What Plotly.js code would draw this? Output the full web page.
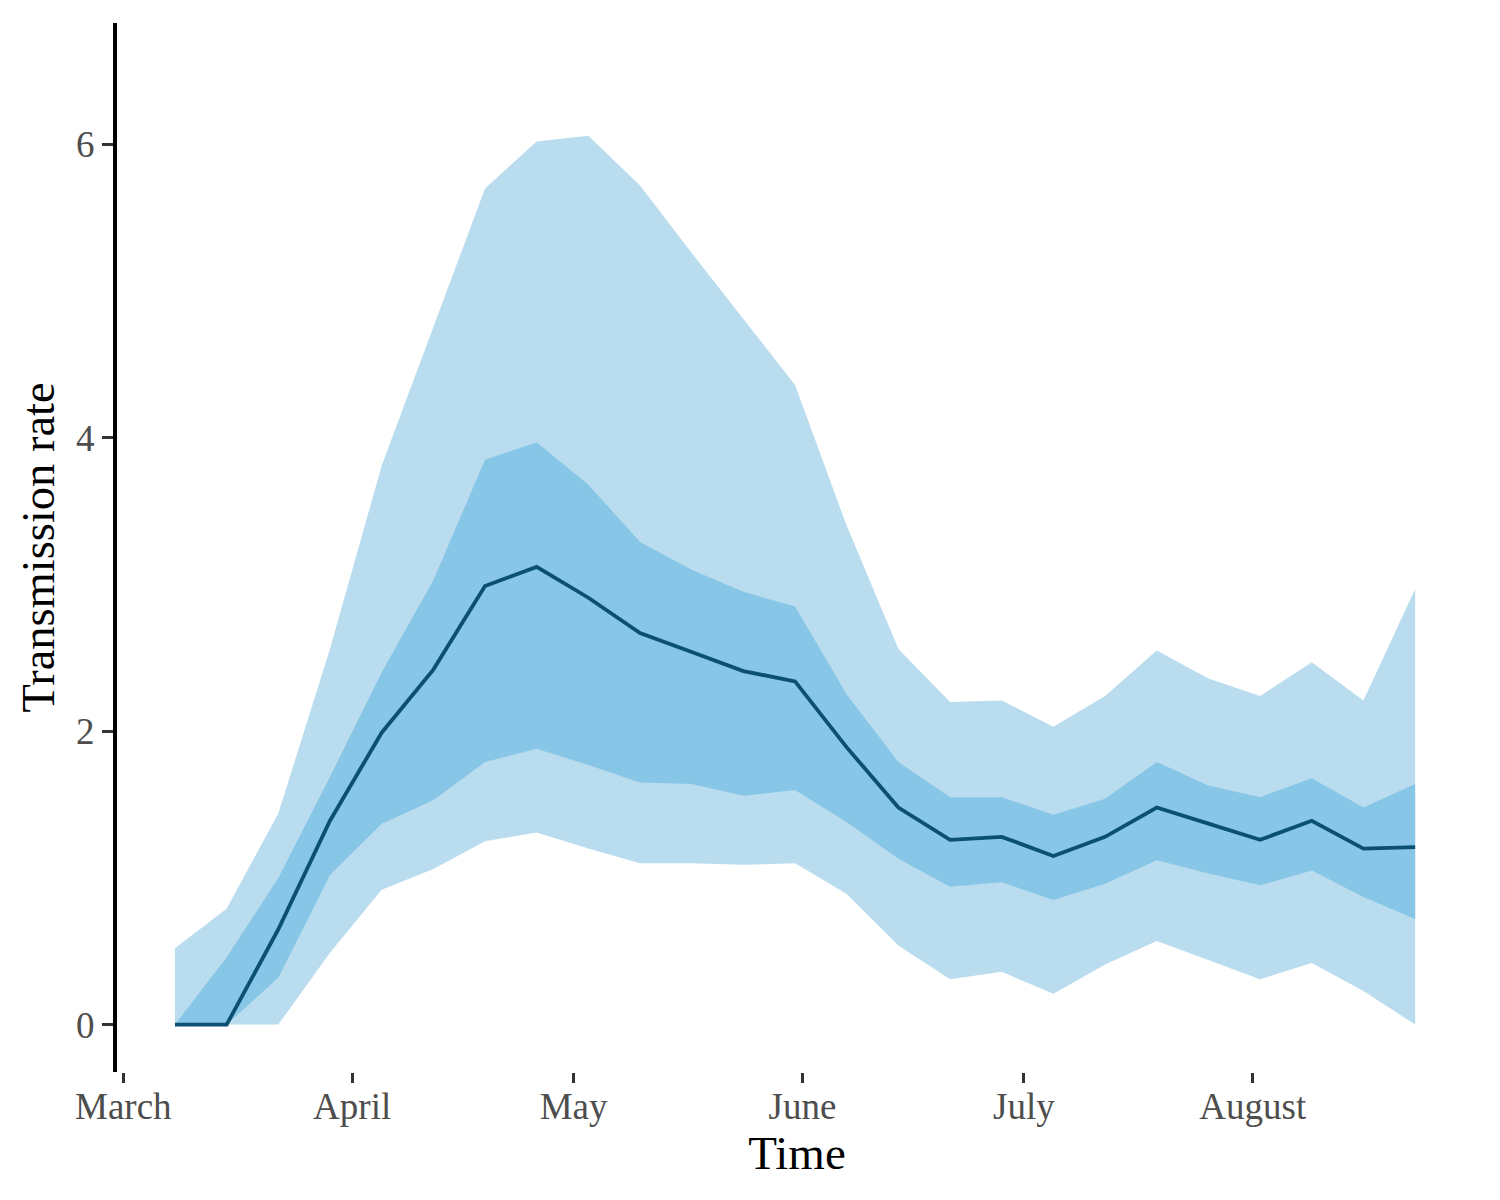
<!DOCTYPE html>
<html>
<head>
<meta charset="utf-8">
<script src="https://cdn.plot.ly/plotly-3.0.1.min.js"></script>
<style>
  html, body { margin: 0; padding: 0; background: #ffffff; }
  #chart { width: 1500px; height: 1200px; }
</style>
</head>
<body>
<div id="chart"></div>
<script>
// Weekly dates
const dates = [
  '2020-03-08','2020-03-15','2020-03-22','2020-03-29','2020-04-05','2020-04-12',
  '2020-04-19','2020-04-26','2020-05-03','2020-05-10','2020-05-17','2020-05-24',
  '2020-05-31','2020-06-07','2020-06-14','2020-06-21','2020-06-28','2020-07-05',
  '2020-07-12','2020-07-19','2020-07-26','2020-08-02','2020-08-09','2020-08-16',
  '2020-08-23'
];

// Median transmission rate
const median = [
  0.00, 0.00, 0.65, 1.39, 1.99, 2.42, 2.99, 3.12, 2.91, 2.67, 2.54, 2.41,
  2.34, 1.89, 1.48, 1.26, 1.28, 1.15, 1.28, 1.48, 1.37, 1.26, 1.39, 1.20,
  1.21
];

// Inner interval (darker ribbon)
const innerLower = [
  0.00, 0.00, 0.32, 1.02, 1.37, 1.53, 1.79, 1.88, 1.77, 1.65, 1.64, 1.56,
  1.60, 1.38, 1.13, 0.94, 0.97, 0.85, 0.96, 1.12, 1.03, 0.95, 1.05, 0.87,
  0.72
];
const innerUpper = [
  0.00, 0.46, 1.00, 1.69, 2.40, 3.03, 3.85, 3.97, 3.68, 3.29, 3.10, 2.95,
  2.85, 2.25, 1.79, 1.55, 1.55, 1.43, 1.54, 1.79, 1.63, 1.55, 1.68, 1.48,
  1.64
];

// Outer interval (lighter ribbon)
const outerLower = [
  0.00, 0.00, 0.00, 0.49, 0.92, 1.06, 1.25, 1.31, 1.20, 1.10, 1.10, 1.09,
  1.10, 0.89, 0.54, 0.31, 0.36, 0.21, 0.41, 0.57, 0.44, 0.31, 0.42, 0.23,
  0.00
];
const outerUpper = [
  0.52, 0.79, 1.44, 2.56, 3.81, 4.76, 5.70, 6.02, 6.06, 5.72, 5.26, 4.81,
  4.36, 3.40, 2.56, 2.20, 2.21, 2.03, 2.24, 2.55, 2.36, 2.24, 2.47, 2.21,
  2.97
];

// Axis ticks
const xTickVals = ['2020-03-01','2020-04-01','2020-05-01','2020-06-01','2020-07-01','2020-08-01'];
const xTickText = ['March','April','May','June','July','August'];
const yTickVals = [0, 2, 4, 6];

const outerColor = '#B9DCEE';
const innerColor = '#88C6E7';
const lineColor = '#0B5072';
const serif = 'Liberation Serif, Times New Roman, serif';

const traces = [
  { x: dates, y: outerLower, type: 'scatter', mode: 'lines',
    line: { width: 0, color: outerColor }, hoverinfo: 'skip', showlegend: false },
  { x: dates, y: outerUpper, type: 'scatter', mode: 'lines', fill: 'tonexty',
    fillcolor: outerColor, line: { width: 0, color: outerColor }, hoverinfo: 'skip', showlegend: false },
  { x: dates, y: innerLower, type: 'scatter', mode: 'lines',
    line: { width: 0, color: innerColor }, hoverinfo: 'skip', showlegend: false },
  { x: dates, y: innerUpper, type: 'scatter', mode: 'lines', fill: 'tonexty',
    fillcolor: innerColor, line: { width: 0, color: innerColor }, hoverinfo: 'skip', showlegend: false },
  { x: dates, y: median, type: 'scatter', mode: 'lines',
    line: { width: 3.8, color: lineColor }, showlegend: false }
];

const layout = {
  width: 1500,
  height: 1200,
  paper_bgcolor: '#ffffff',
  plot_bgcolor: '#ffffff',
  margin: { l: 117, r: 23, t: 23, b: 128, pad: 0 },
  font: { family: serif, color: '#000000' },
  showlegend: false,
  xaxis: {
    type: 'date',
    range: ['2020-02-29 03:32', '2020-08-31 09:07'],
    tickmode: 'array',
    tickvals: xTickVals,
    ticktext: xTickText,
    ticks: 'outside',
    ticklen: 10,
    tickwidth: 3,
    tickcolor: '#333333',
    showline: false,
    showgrid: false,
    zeroline: false,
    ticklabelstandoff: -8,
    tickfont: { family: serif, size: 37, color: '#4D4D4D' },
    title: { text: 'Time', font: { family: serif, size: 47, color: '#000000' }, standoff: 8 },
    automargin: false
  },
  yaxis: {
    range: [-0.323, 6.828],
    tickmode: 'array',
    tickvals: yTickVals,
    ticktext: yTickVals.map(String),
    ticks: 'outside',
    ticklen: 11,
    tickwidth: 3,
    tickcolor: '#333333',
    showline: true,
    linecolor: '#000000',
    linewidth: 4,
    showgrid: false,
    zeroline: false,
    tickfont: { family: serif, size: 37, color: '#4D4D4D' },
    title: { text: 'Transmission rate', font: { family: serif, size: 46.5, color: '#000000' }, standoff: 8 },
    automargin: false
  }
};

Plotly.newPlot('chart', traces, layout, { staticPlot: true, displayModeBar: false });
</script>
</body>
</html>
